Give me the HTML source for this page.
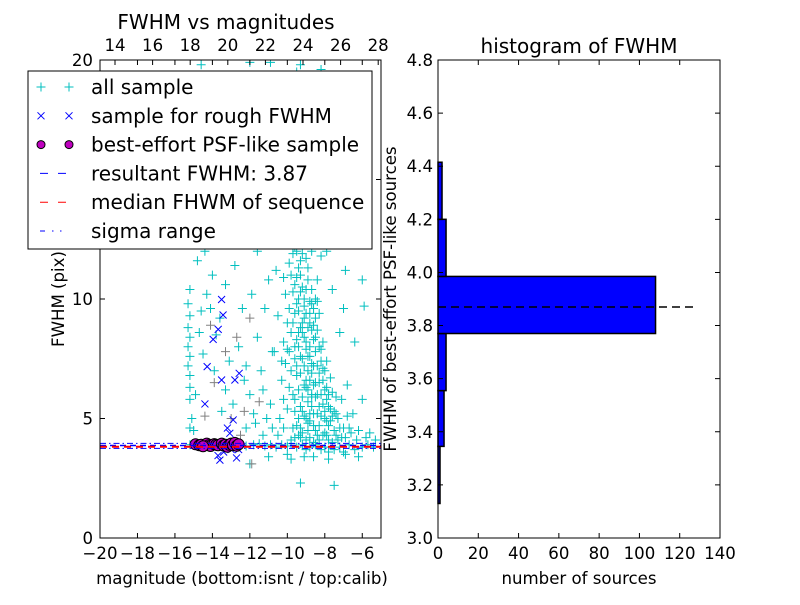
<!DOCTYPE html>
<html><head><meta charset="utf-8"><style>
body{margin:0;background:#fff}
svg text{font-family:"DejaVu Sans","Liberation Sans",sans-serif;fill:#000}
</style></head><body>
<svg width="800" height="600" viewBox="0 0 800 600" xmlns="http://www.w3.org/2000/svg">
<defs><clipPath id="lc"><rect x="100" y="60" width="281" height="478"/></clipPath></defs>
<rect width="800" height="600" fill="#fff"/>
<g id="left"></g>
<g id="right"></g>
</svg>
<script>
const cyanPts=[[-15.2,3.9],[-14.8,3.9],[-14.3,3.95],[-13.7,3.85],[-13.0,3.9],[-12.5,3.9],[-12.2,3.85],[-11.8,3.9],[-11.5,3.95],[-11.2,3.85],[-10.9,3.9],[-10.6,3.8],[-10.3,3.9],[-10.0,3.85],[-9.8,3.95],[-9.5,3.8],[-9.2,3.9],[-9.0,3.7],[-8.8,3.8],[-8.5,3.9],[-8.2,3.7],[-8.0,3.8],[-7.8,3.6],[-7.5,3.7],[-7.2,3.8],[-7.0,3.6],[-6.7,3.9],[-6.4,3.7],[-6.0,3.8],[-5.7,3.9],[-5.4,3.8],[-11.0,3.4],[-10.0,3.5],[-9.3,2.3],[-7.5,2.2],[-12.0,3.1],[-11.3,4.3],
[-15.2,5.8],[-15.2,6.3],[-15.2,6.8],[-15.3,7.2],[-15.2,7.6],[-15.3,8.0],[-15.2,8.4],[-15.3,8.8],[-15.2,9.3],[-15.3,9.8],[-15.2,10.4],[-15.0,4.5],[-14.9,6.0],[-14.5,7.7],[-14.6,9.5],[-14.3,10.2],[-14.0,11.0],[-14.4,12.0],[-13.8,8.5],[-13.6,9.2],[-13.3,10.6],[-13.1,7.4],[-13.3,6.2],[-12.9,5.6],[-12.6,8.0],[-12.4,9.6],[-12.8,11.4],[-13.1,12.6],[-13.7,13.5],[-14.2,14.6],[-13.4,16.0],[-14.8,11.6],[-12.2,4.6],[-12.0,6.0],[-11.8,5.2],[-11.4,7.0],[-11.6,8.4],[-11.2,9.6],[-11.0,10.8],[-11.6,12.0],[-11.3,6.2],[-10.9,5.6],[-10.8,7.8],[-12.2,7.2],[-11.9,10.2],[-12.5,13.0],[-13.9,17.5],[-11.0,15.5],[-15.1,5.0],[-15.2,4.6],[-14.7,8.6],[-14.1,9.6],[-13.9,7.0],[-13.5,5.3],[-12.3,6.6],[-11.7,4.8],[-11.1,5.0],[-10.8,4.6],
[-10.5,4.3],[-10.4,5.0],[-10.2,5.8],[-10.3,6.6],[-10.1,7.3],[-10.2,8.2],[-10.0,9.0],[-10.1,10.2],[-9.9,11.5],[-10.0,12.8],[-9.9,14.0],[-10.0,15.5],[-9.8,17.0],[-9.6,18.5],[-9.5,19.5],[-9.7,4.6],[-9.6,5.3],[-9.7,6.0],[-9.5,6.8],[-9.6,7.5],[-9.5,8.3],[-9.7,9.0],[-9.5,9.8],[-9.6,10.6],[-9.4,11.3],[-9.6,12.2],[-9.3,13.2],[-9.5,14.5],[-9.2,16.0],
[-9.2,4.4],[-9.1,5.1],[-9.2,5.9],[-9.0,6.6],[-9.1,7.2],[-9.0,7.9],[-9.2,8.6],[-9.0,9.4],[-9.1,10.0],[-8.9,10.8],[-9.0,11.7],[-8.8,4.2],[-8.8,4.9],[-8.7,5.5],[-8.9,6.2],[-8.7,6.9],[-8.8,7.6],[-8.6,8.3],[-8.8,9.0],[-8.6,9.6],[-8.7,10.4],[-8.5,4.5],[-8.4,5.2],[-8.5,5.9],[-8.3,6.5],[-8.4,7.2],[-8.2,7.9],[-8.4,8.7],[-8.1,4.3],[-8.0,5.0],[-8.1,5.6],[-7.9,6.3],[-8.0,7.0],[-7.8,4.7],[-7.7,5.4],[-7.6,6.1],[-7.4,4.3],[-7.3,5.0],[-7.1,5.8],[-7.0,4.6],[-6.8,6.4],[-6.5,5.2],[-6.2,4.5],[-6.0,5.8],[-5.8,4.2],[-7.2,8.6],[-6.4,8.2],[-6.0,10.8],[-5.9,9.7],[-7.0,9.6],[-7.6,10.4],[-8.2,11.8],[-8.8,12.5],[-9.0,13.8],[-8.4,14.6],[-7.0,12.7],[-6.9,11.2],[-7.9,12.0],[-8.6,15.8],[-9.3,18.0],[-8.0,17.2],[-10.4,13.5],[-10.6,11.2],[-10.5,9.3],[-10.7,7.8],[-9.3,19.8],[-10.9,19.9],[-12.0,19.9],[-14.6,19.8],
[-9.8,4.1],[-9.6,4.2],[-9.4,4.3],[-9.3,4.6],[-9.4,5.0],[-9.3,5.5],[-9.4,6.2],[-9.3,6.9],[-9.3,7.6],[-9.4,8.0],[-9.3,8.8],[-9.4,9.5],[-9.3,10.3],[-9.3,11.0],[-9.2,11.9],[-9.2,12.6],[-9.4,13.6],[-9.1,14.6],[-9.7,15.2],[-9.4,16.6],[-9.0,4.1],[-8.9,4.5],[-9.0,5.0],[-8.9,5.7],[-9.0,6.3],[-8.9,7.0],[-8.9,7.6],[-9.0,8.2],[-8.9,8.8],[-9.1,9.2],[-8.8,9.9],[-8.9,11.3],[-8.7,12.0],[-8.9,13.2],[-8.6,4.0],[-8.6,4.7],[-8.6,5.2],[-8.7,6.0],[-8.5,6.5],[-8.6,7.2],[-8.5,7.8],[-8.7,8.7],[-8.5,9.2],[-8.5,10.0],[-8.4,10.8],[-8.3,4.1],[-8.3,4.7],[-8.3,5.5],[-8.2,6.0],[-8.3,6.9],[-8.2,7.4],[-8.1,8.2],[-8.3,9.4],[-8.0,4.4],[-8.0,5.3],[-7.9,5.8],[-8.1,6.6],[-7.9,7.4],[-7.8,4.1],[-7.7,4.9],[-7.8,5.5],[-7.7,6.7],[-7.5,4.5],[-7.5,5.3],[-7.4,5.9],[-7.6,4.0],[-7.3,4.1],[-7.2,4.6],[-6.9,4.2],[-6.8,5.1],[-6.6,4.4],[-6.3,4.1],[-5.6,4.4],[-5.3,4.1],[-6.9,3.5],[-6.2,3.4],[-7.8,3.3],[-8.6,3.4],[-9.1,3.4],[-9.8,3.3],[-10.2,4.6],[-10.0,5.4],[-9.9,6.3],[-9.8,7.0],[-9.9,7.8],[-9.8,8.6],[-9.9,9.6],[-9.7,10.3],[-9.8,11.0],[-9.7,11.9],[-9.7,13.0],[-9.6,13.8],[-10.1,16.5],[-9.4,17.5],[-8.7,18.4],[-8.2,19.6],[-10.3,18.8],[-9.9,19.3],
[-9.5,4.7],[-9.2,5.3],[-9.6,5.8],[-9.1,6.4],[-9.5,7.2],[-9.2,7.5],[-9.6,8.0],[-9.1,8.4],[-9.4,8.6],[-9.2,9.0],[-9.6,9.4],[-9.1,9.7],[-9.4,10.0],[-9.2,10.5],[-9.5,10.9],[-9.0,10.4],[-9.3,11.6],[-9.5,12.0],[-9.0,12.3],[-9.3,12.9],[-8.8,5.2],[-8.7,5.9],[-8.8,6.6],[-8.6,6.4],[-8.7,7.3],[-8.8,8.0],[-8.6,8.9],[-8.8,9.4],[-8.7,9.8],[-8.4,9.9],[-8.5,8.4],[-8.3,8.0],[-8.4,6.0],[-8.2,5.1],[-8.1,7.1],[-8.0,6.2],[-7.9,4.9],[-7.6,5.1],[-7.8,6.0],[-7.4,5.2],[-8.9,4.8],[-9.3,4.2],[-8.4,4.3],[-7.9,4.3],[-7.1,4.2],[-6.7,4.6],[-10.3,7.4],[-10.0,7.9],[-10.2,10.9],[-9.9,12.3]];
const grayPts=[[-13.9,6.5],[-13.3,7.8],[-12.7,8.4],[-12.3,5.3],[-14.1,8.9],[-13.0,5.0],[-12.5,4.3],[-11.5,5.7],[-12.0,9.2],[-11.9,3.1],[-14.4,5.1],[-13.6,12.8],[-12.9,14.2]];
const roughPts=[[-13.51,9.98],[-13.43,9.33],[-13.69,8.73],[-13.96,8.31],[-14.28,7.17],[-13.51,6.61],[-12.8,6.61],[-12.57,6.89],[-14.4,5.61],[-12.89,4.94],[-13.07,4.38],[-13.6,3.26],[-12.71,3.35],[-13.4,3.6],[-13.0,3.7],[-12.6,3.7],[-14.6,3.8],[-14.0,3.95],[-13.2,4.6],[-13.7,3.45]];
const psfPts=[[-14.9,3.92],[-14.7,3.88],[-14.6,3.9],[-14.3,3.95],[-14.2,3.88],[-14.1,3.85],[-13.9,3.93],[-13.8,3.9],[-13.7,3.88],[-13.5,3.95],[-13.4,3.87],[-13.3,3.9],[-13.2,3.82],[-13.1,3.9],[-13.0,3.95],[-12.9,3.88],[-12.8,3.98],[-12.7,3.86],[-12.6,3.92],[-14.5,3.84]];
const resultFwhm=3.87, medianFwhm=3.82, sigmaLo=3.75, sigmaHi=3.96;
const binEdges=[3.13,3.345,3.555,3.77,3.985,4.2,4.415];
const binCounts=[1,3,4,108,4,2];
const bottomTicks=[-20,-18,-16,-14,-12,-10,-8,-6];
const topTicks=[14,16,18,20,22,24,26,28];
const leftTicks=[0,5,10,15,20];
const histYTicks=[3.0,3.2,3.4,3.6,3.8,4.0,4.2,4.4,4.6,4.8];
const histXTicks=[0,20,40,60,80,100,120,140];

const NS='http://www.w3.org/2000/svg';
function mk(p,t,a,txt){const e=document.createElementNS(NS,t);for(const k in a)e.setAttribute(k,a[k]);if(txt!==undefined)e.textContent=txt;p.appendChild(e);return e;}
const X=m=>100+(m+20)*18.733, Y=f=>538-f*23.9, XT=m=>115+(m-14)*18.8;
const HY=f=>538-(f-3)*265.56, HX=c=>438+c*2.0143;
const TF=16.6;
const L=document.getElementById('left'), R=document.getElementById('right');
const plot=mk(L,'g',{'clip-path':'url(#lc)'});


function plus(g,cx,cy,col){return mk(g,'path',{d:`M${cx-4.5} ${cy}h9M${cx} ${cy-4.5}v9`,stroke:col,'stroke-width':1,fill:'none'});}
cyanPts.forEach(d=>{const p=plus(plot,X(d[0]),Y(d[1]),'#00bfbf');});
grayPts.forEach(d=>{const p=plus(plot,X(d[0]),Y(d[1]),'#808080');});
roughPts.forEach(d=>{const cx=X(d[0]),cy=Y(d[1]);const p=mk(plot,'path',{d:`M${cx-3.5} ${cy-3.5}l7 7M${cx-3.5} ${cy+3.5}l7 -7`,stroke:'#0000ff','stroke-width':1});});
psfPts.forEach(d=>{const c=mk(plot,'circle',{cx:X(d[0]),cy:Y(d[1]),r:5.5,fill:'#bf00bf',stroke:'#000','stroke-width':1});});
let ln;
ln=mk(plot,'line',{x1:100,x2:381,y1:Y(sigmaHi),y2:Y(sigmaHi),stroke:'#0000ff','stroke-dasharray':'6 3 1.5 3'});
ln=mk(plot,'line',{x1:100,x2:381,y1:Y(sigmaLo),y2:Y(sigmaLo),stroke:'#0000ff','stroke-dasharray':'6 3 1.5 3'});
ln=mk(plot,'line',{x1:100,x2:381,y1:Y(resultFwhm),y2:Y(resultFwhm),stroke:'#0000ff','stroke-width':1.5,'stroke-dasharray':'6 4'});
ln=mk(plot,'line',{x1:100,x2:381,y1:Y(medianFwhm),y2:Y(medianFwhm),stroke:'#ff0000','stroke-width':2,'stroke-dasharray':'7 5'});
let fr=mk(L,'rect',{x:100,y:60,width:281,height:478,fill:'none',stroke:'#000'});
bottomTicks.forEach(t=>{const x=X(t);mk(L,'path',{d:`M${x} 538v-5M${x} 60v5`,stroke:'#000'});const e=mk(L,'text',{x:x,y:559,'text-anchor':'middle','font-size':TF},'\u2212'+Math.abs(t));});
topTicks.forEach(t=>{const x=XT(t);mk(L,'path',{d:`M${x} 60v5`,stroke:'#000'});const e=mk(L,'text',{x:x,y:51,'text-anchor':'middle','font-size':TF},String(t));});
leftTicks.forEach(t=>{const y=Y(t);mk(L,'path',{d:`M100 ${y}h5M381 ${y}h-5`,stroke:'#000'});const e=mk(L,'text',{x:93,y:y+6,'text-anchor':'end','font-size':TF},String(t));});
let t;
t=mk(L,'text',{x:226,y:29,'text-anchor':'middle','font-size':20},'FWHM vs magnitudes');
t=mk(L,'text',{x:242,y:584,'text-anchor':'middle','font-size':TF},'magnitude (bottom:isnt / top:calib)');
t=mk(L,'text',{x:64,y:299,'text-anchor':'middle','font-size':TF,transform:'rotate(-90 64 299)'},'FWHM (pix)');
const lg=mk(L,'g',{});
mk(lg,'rect',{x:28,y:71,width:344,height:178,fill:'#fff',stroke:'#000'});
const labels=['all sample','sample for rough FWHM','best-effort PSF-like sample','resultant FWHM: 3.87','median FHWM of sequence','sigma range'];
labels.forEach((s,i)=>{const y=87+i*28.8;
 if(i==0){plus(lg,41,y,'#00bfbf');plus(lg,69,y,'#00bfbf');}
 if(i==1){[41,69].forEach(x=>mk(lg,'path',{d:`M${x-3.5} ${y-3.5}l7 7M${x-3.5} ${y+3.5}l7 -7`,stroke:'#0000ff'}));}
 if(i==2){[41,69].forEach(x=>mk(lg,'circle',{cx:x,cy:y,r:4,fill:'#bf00bf',stroke:'#000'}));}
 if(i==3)mk(lg,'path',{d:`M40 ${y}h8M58 ${y}h8`,stroke:'#0000ff'});
 if(i==4)mk(lg,'path',{d:`M40 ${y}h8M58 ${y}h8`,stroke:'#ff0000'});
 if(i==5)mk(lg,'path',{d:`M40 ${y}h5M52 ${y}h1.5M60 ${y}h1.5`,stroke:'#0000ff'});
 const e=mk(lg,'text',{x:91,y:y+7,'font-size':20},s);});
binCounts.forEach((c,i)=>{const y1=HY(binEdges[i+1]),y0=HY(binEdges[i]);const r=mk(R,'rect',{x:438,y:y1,width:Math.max(HX(c)-438,1),height:y0-y1,fill:'#0000ff',stroke:'#000','stroke-width':1.5});});
ln=mk(R,'line',{x1:438,x2:HX(128),y1:HY(resultFwhm),y2:HY(resultFwhm),stroke:'#000','stroke-width':1.5,'stroke-dasharray':'8 5'});
fr=mk(R,'rect',{x:438,y:60,width:282,height:478,fill:'none',stroke:'#000'});
histYTicks.forEach(v=>{const y=HY(v);mk(R,'path',{d:`M438 ${y}h5M720 ${y}h-5`,stroke:'#000'});const e=mk(R,'text',{x:433,y:y+6,'text-anchor':'end','font-size':TF},v.toFixed(1));});
histXTicks.forEach(v=>{const x=HX(v);mk(R,'path',{d:`M${x} 538v-5M${x} 60v5`,stroke:'#000'});const e=mk(R,'text',{x:x,y:559,'text-anchor':'middle','font-size':TF},String(v));});
t=mk(R,'text',{x:579,y:53,'text-anchor':'middle','font-size':20},'histogram of FWHM');
t=mk(R,'text',{x:579,y:584,'text-anchor':'middle','font-size':TF},'number of sources');
t=mk(R,'text',{x:396,y:299,'text-anchor':'middle','font-size':TF,transform:'rotate(-90 396 299)'},'FWHM of best-effort PSF-like sources');
</script>
</body></html>
